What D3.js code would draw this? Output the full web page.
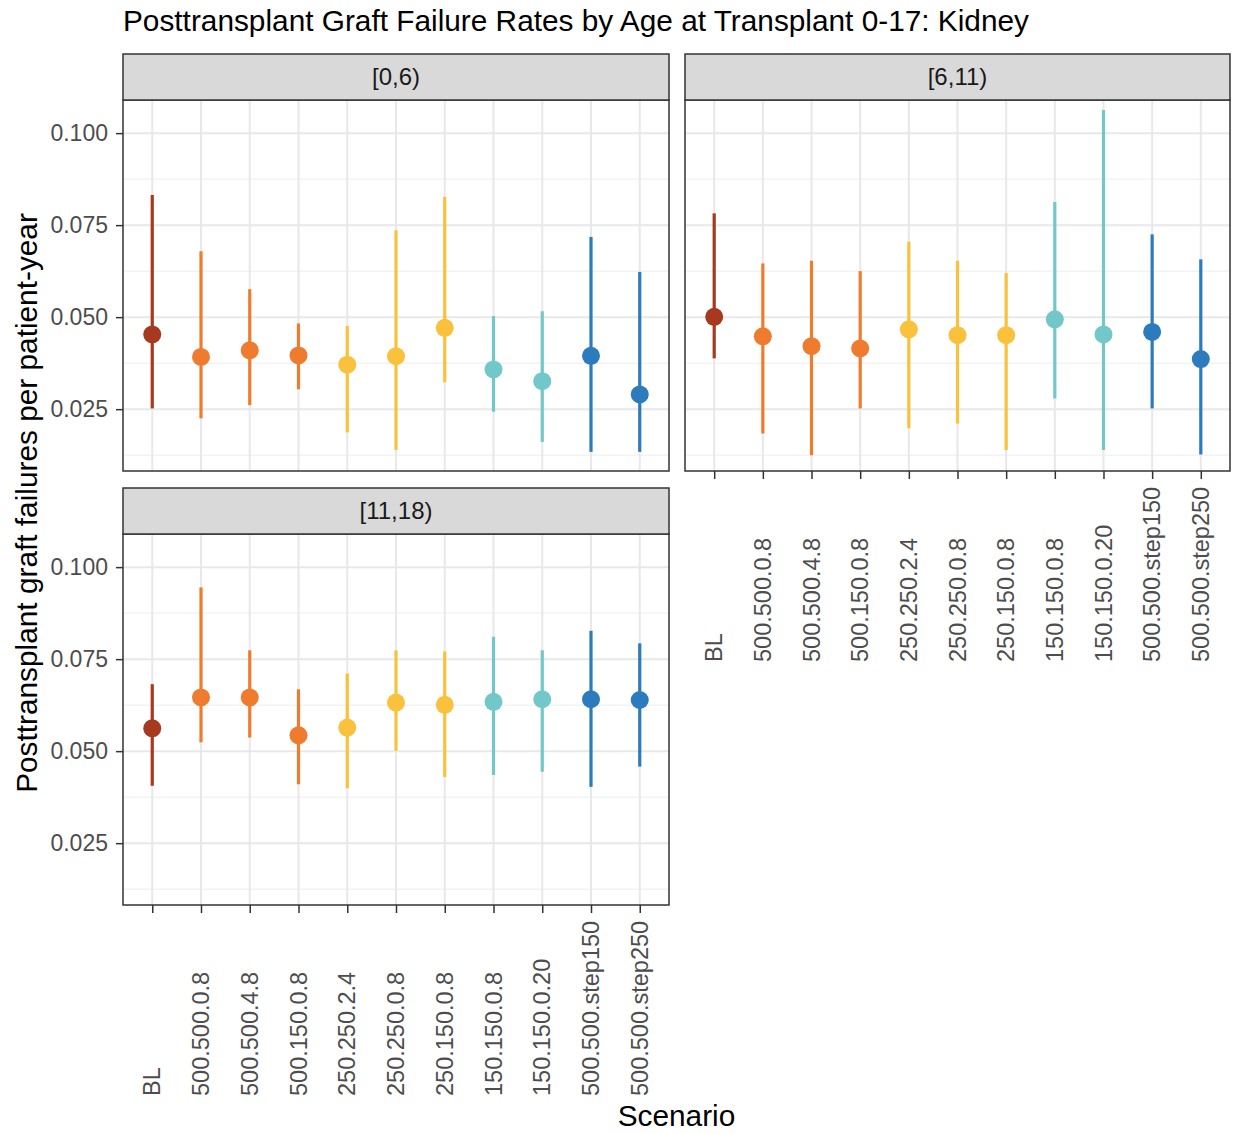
<!DOCTYPE html>
<html>
<head>
<meta charset="utf-8">
<script src="https://cdn.jsdelivr.net/npm/d3@7"></script>
<style>
  body { margin: 0; background: #fff; }
  text { font-family: "Liberation Sans", Arial, sans-serif; }
</style>
</head>
<body>
<div id="chart"></div>
<script>
var scenarios = ["BL", "500.500.0.8", "500.500.4.8", "500.150.0.8", "250.250.2.4", "250.250.0.8",
    "250.150.0.8", "150.150.0.8", "150.150.0.20", "500.500.step150", "500.500.step250"]
var scenarioColors = ["#a6391e", "#ef7b2f", "#ef7b2f", "#ef7b2f", "#f9c13c", "#f9c13c",
    "#f9c13c", "#72c7c8", "#72c7c8", "#2c7bbd", "#2c7bbd"]

var panelNames = ["[0,6)", "[6,11)", "[11,18)"]

// point estimate, lower and upper interval per panel
var est06 = [0.0453, 0.0392, 0.0410, 0.0396, 0.0371, 0.0394, 0.0471, 0.0358, 0.0326, 0.0395, 0.0290]
var lo06  = [0.0252, 0.0225, 0.0261, 0.0304, 0.0187, 0.0139, 0.0323, 0.0243, 0.0161, 0.0134, 0.0134]
var hi06  = [0.0832, 0.0679, 0.0576, 0.0483, 0.0476, 0.0736, 0.0827, 0.0503, 0.0516, 0.0718, 0.0623]

var est611 = [0.0501, 0.0448, 0.0421, 0.0415, 0.0467, 0.0451, 0.0451, 0.0494, 0.0453, 0.0460, 0.0386]
var lo611  = [0.0388, 0.0184, 0.0125, 0.0252, 0.0198, 0.0211, 0.0139, 0.0279, 0.0139, 0.0252, 0.0127]
var hi611  = [0.0782, 0.0646, 0.0653, 0.0625, 0.0705, 0.0653, 0.0620, 0.0813, 0.1063, 0.0725, 0.0657]

var est1118 = [0.0562, 0.0646, 0.0646, 0.0543, 0.0564, 0.0632, 0.0626, 0.0634, 0.0641, 0.0641, 0.0639]
var lo1118  = [0.0406, 0.0524, 0.0537, 0.0410, 0.0399, 0.0501, 0.0430, 0.0435, 0.0444, 0.0403, 0.0458]
var hi1118  = [0.0682, 0.0945, 0.0774, 0.0668, 0.0711, 0.0774, 0.0771, 0.0811, 0.0774, 0.0827, 0.0793]

var yTicks = [0.025, 0.050, 0.075, 0.100]
var yMinor = [0.0125, 0.0375, 0.0625, 0.0875]

var width = 1236, height = 1134

var svg = d3.select("#chart").append("svg")
    .attr("width", width)
    .attr("height", height)

// panel boxes: plot area + strip above
var panels = [
    {name: panelNames[0], x0: 123, x1: 669, y0: 100, y1: 471, est: est06, lo: lo06, hi: hi06, yAxis: true, xAxis: false, labBase: 0},
    {name: panelNames[1], x0: 685, x1: 1230, y0: 100, y1: 471, est: est611, lo: lo611, hi: hi611, yAxis: false, xAxis: true, labBase: 662},
    {name: panelNames[2], x0: 123, x1: 669, y0: 534, y1: 905, est: est1118, lo: lo1118, hi: hi1118, yAxis: true, xAxis: true, labBase: 1096}
]
var stripH = 46

panels.forEach(function(p) {
    var x = d3.scalePoint()
        .domain(scenarios)
        .range([p.x0, p.x1])
        .padding(0.6)
    var y = d3.scaleLinear()
        .domain([0.0082, 0.109])
        .range([p.y1, p.y0])

    var g = svg.append("g")

    // background + grid
    g.append("rect")
        .attr("x", p.x0).attr("y", p.y0)
        .attr("width", p.x1 - p.x0).attr("height", p.y1 - p.y0)
        .attr("fill", "#fff")

    g.selectAll(".minor")
        .data(yMinor)
        .enter().append("line")
        .attr("x1", p.x0).attr("x2", p.x1)
        .attr("y1", function(d) { return y(d) })
        .attr("y2", function(d) { return y(d) })
        .attr("stroke", "#ededed")
        .attr("stroke-width", 1)

    g.selectAll(".major")
        .data(yTicks)
        .enter().append("line")
        .attr("x1", p.x0).attr("x2", p.x1)
        .attr("y1", function(d) { return y(d) })
        .attr("y2", function(d) { return y(d) })
        .attr("stroke", "#e8e8e8")
        .attr("stroke-width", 2)

    g.selectAll(".vgrid")
        .data(scenarios)
        .enter().append("line")
        .attr("x1", function(d) { return x(d) })
        .attr("x2", function(d) { return x(d) })
        .attr("y1", p.y0).attr("y2", p.y1)
        .attr("stroke", "#e8e8e8")
        .attr("stroke-width", 2)

    // error bars
    g.selectAll(".bar")
        .data(scenarios)
        .enter().append("line")
        .attr("x1", function(d) { return x(d) })
        .attr("x2", function(d) { return x(d) })
        .attr("y1", function(d, i) { return y(p.lo[i]) })
        .attr("y2", function(d, i) { return y(p.hi[i]) })
        .attr("stroke", function(d, i) { return scenarioColors[i] })
        .attr("stroke-width", 3.2)

    g.selectAll(".pt")
        .data(scenarios)
        .enter().append("circle")
        .attr("cx", function(d) { return x(d) })
        .attr("cy", function(d, i) { return y(p.est[i]) })
        .attr("r", 9)
        .attr("fill", function(d, i) { return scenarioColors[i] })

    // panel border
    g.append("rect")
        .attr("x", p.x0).attr("y", p.y0)
        .attr("width", p.x1 - p.x0).attr("height", p.y1 - p.y0)
        .attr("fill", "none")
        .attr("stroke", "#333")
        .attr("stroke-width", 1.5)

    // strip
    g.append("rect")
        .attr("x", p.x0).attr("y", p.y0 - stripH)
        .attr("width", p.x1 - p.x0).attr("height", stripH)
        .attr("fill", "#d9d9d9")
        .attr("stroke", "#333")
        .attr("stroke-width", 1.5)
    g.append("text")
        .attr("x", (p.x0 + p.x1) / 2)
        .attr("y", p.y0 - stripH / 2)
        .attr("dy", "0.35em")
        .attr("text-anchor", "middle")
        .attr("font-size", "24px")
        .attr("fill", "#1a1a1a")
        .text(p.name)

    if (p.yAxis) {
        var ya = g.append("g")
            .attr("transform", "translate(" + p.x0 + ",0)")
            .call(d3.axisLeft(y).tickValues(yTicks).tickFormat(d3.format(".3f")).tickSize(7).tickPadding(8))
        ya.select(".domain").remove()
        ya.selectAll("line").attr("stroke", "#333").attr("stroke-width", 1.5)
        ya.selectAll("text")
            .attr("font-size", "23px")
            .attr("fill", "#4d4d4d")
            .style("font-family", "Liberation Sans, Arial, sans-serif")
    }

    if (p.xAxis) {
        var xa = g.append("g")
            .attr("transform", "translate(0," + p.y1 + ")")
            .call(d3.axisBottom(x).tickSize(8).tickFormat(""))
        xa.select(".domain").remove()
        xa.selectAll("line").attr("stroke", "#333").attr("stroke-width", 1.5)

        g.selectAll(".xlab")
            .data(scenarios)
            .enter().append("text")
            .attr("transform", function(d) { return "translate(" + x(d) + "," + p.labBase + ") rotate(-90)" })
            .attr("dy", "0.35em")
            .attr("text-anchor", "start")
            .attr("font-size", "23.5px")
            .attr("fill", "#4d4d4d")
            .text(function(d) { return d })
    }
})

// titles
svg.append("text")
    .attr("x", 123)
    .attr("y", 31)
    .attr("font-size", "29.8px")
    .attr("fill", "#000")
    .text("Posttransplant Graft Failure Rates by Age at Transplant 0-17: Kidney")

svg.append("text")
    .attr("transform", "translate(37," + 503 + ") rotate(-90)")
    .attr("text-anchor", "middle")
    .attr("font-size", "29.8px")
    .attr("fill", "#000")
    .text("Posttransplant graft failures per patient-year")

svg.append("text")
    .attr("x", 676.5)
    .attr("y", 1126)
    .attr("text-anchor", "middle")
    .attr("font-size", "29.8px")
    .attr("fill", "#000")
    .text("Scenario")
</script>
</body>
</html>
